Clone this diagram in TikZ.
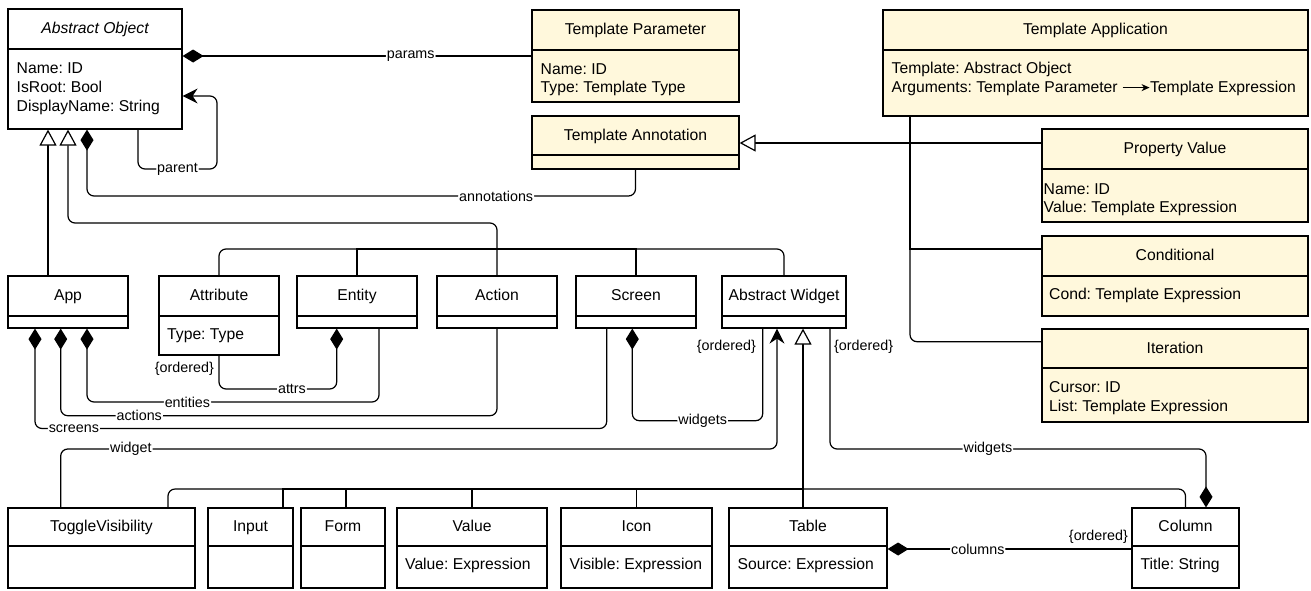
\documentclass[tikz,border=0pt]{standalone}
\usepackage{fontspec}
\setmainfont{Liberation Sans}
\usetikzlibrary{arrows.meta,fit}
\definecolor{tmplfill}{RGB}{255,248,220}
\frenchspacing

% \umlclass[style]{name}{left}{top}{right}{divider}{bottom}{title}
\newcommand\umlclass[8][]{%
  \coordinate (#2-nw) at (#3,#4);
  \coordinate (#2-se) at (#5,#7);
  \node[classbox,#1,fit=(#2-nw)(#2-se)] (#2) {};
  \draw[line width=1.2pt] (#3,#6) -- (#5,#6);
  \node[classtitle] (#2-title) at ({(#3+#5)/2},{(#4+#6)/2+4.5}) {#8};
}

\begin{document}
\frenchspacing
\begin{tikzpicture}[x=1pt,y=-1pt,
  classbox/.style={draw, inner sep=0pt, line width=1.2pt},
  tmpl/.style={fill=tmplfill},
  classtitle/.style={anchor=base, inner sep=0pt, font=\fontsize{15.7}{18.7}\selectfont},
  attrtext/.style={anchor=base west, inner sep=0pt, font=\fontsize{15.7}{18.7}\selectfont},
  lbl/.style={fill=white, inner sep=1pt, font=\fontsize{14.3}{17}\selectfont},
  note/.style={inner sep=0pt, font=\fontsize{14.3}{17}\selectfont},
  link/.style={draw, line width=1.2pt, rounded corners=7pt},
  comp/.style={link, {Diamond[length=21pt,width=13pt]}-},
  gen/.style={link, -{Triangle[length=16pt,width=17pt,fill=white]}},
  nav/.style={link, -{Stealth[length=15pt,width=15pt,inset=5pt]}},
]
\useasboundingbox (0,0) rectangle (1311,590);

% ---------- classes: top area ----------
\umlclass{ao}{8}{9}{182}{49}{129}{\itshape Abstract Object}
\node[attrtext] (ao-a1) at (16.5,73.5) {Name: ID};
\node[attrtext] (ao-a2) at (16.5,92.3) {IsRoot: Bool};
\node[attrtext] (ao-a3) at (16.5,111.1) {DisplayName: String};

\umlclass[tmpl]{tp}{532}{10}{739}{50}{102}{Template Parameter}
\node[attrtext] (tp-a1) at (540.5,74) {Name: ID};
\node[attrtext] (tp-a2) at (540.5,92.6) {Type: Template Type};

\umlclass[tmpl]{tann}{532}{116}{739}{155}{169}{Template Annotation}

\umlclass[tmpl]{tapp}{883}{10}{1308}{50}{116}{Template Application}
\node[attrtext] (tapp-a1) at (891.5,73.6) {Template: Abstract Object};
\node[attrtext] (tapp-a2) at (891.5,92.2) {Arguments: Template Parameter
  \tikz[baseline=-4.6pt]\draw[line width=1pt,-{Stealth[length=8pt,width=7pt,inset=2.5pt]}] (0pt,0pt) -- (27pt,0pt);Template Expression};

\umlclass[tmpl]{pv}{1042}{129}{1308}{169}{222}{Property Value}
\node[attrtext] (pv-a1) at (1043.5,194) {Name: ID};
\node[attrtext] (pv-a2) at (1043.5,212.4) {Value: Template Expression};

\umlclass[tmpl]{cond}{1042}{236}{1308}{276}{316}{Conditional}
\node[attrtext] (cond-a1) at (1049,299.6) {Cond: Template Expression};

\umlclass[tmpl]{iter}{1042}{329}{1308}{368}{422}{Iteration}
\node[attrtext] (iter-a1) at (1049,392.3) {Cursor: ID};
\node[attrtext] (iter-a2) at (1049,411.1) {List: Template Expression};

% ---------- classes: middle row ----------
\umlclass{app}{8}{276}{128}{316}{328}{App}
\umlclass{attr}{159}{276}{279}{316}{355}{Attribute}
\node[attrtext] (attr-a1) at (167,339.6) {Type: Type};
\umlclass{ent}{297}{276}{417}{316}{328}{Entity}
\umlclass{act}{437}{276}{557}{316}{328}{Action}
\umlclass{scr}{576}{276}{696}{316}{328}{Screen}
\umlclass{aw}{722}{276}{846}{316}{328}{Abstract Widget}

% ---------- classes: bottom row ----------
\umlclass{tv}{8}{508}{195}{546}{588}{ToggleVisibility}
\umlclass{inp}{208}{508}{293}{546}{588}{Input}
\umlclass{form}{301}{508}{385}{546}{588}{Form}
\umlclass{val}{397}{508}{547}{546}{588}{Value}
\node[attrtext] (val-a1) at (405,569.6) {Value: Expression};
\umlclass{icon}{561}{508}{712}{546}{588}{Icon}
\node[attrtext] (icon-a1) at (569.5,569.6) {Visible: Expression};
\umlclass{tab}{729}{508}{887}{546}{588}{Table}
\node[attrtext] (tab-a1) at (737.5,569.6) {Source: Expression};
\umlclass{col}{1132}{508}{1239}{546}{588}{Column}
\node[attrtext] (col-a1) at (1140.5,569.6) {Title: String};

% ---------- generalisations to Template Annotation ----------
\coordinate (jt) at (910,143);
\draw[gen] (pv.west |- jt) -- (tann.east |- jt);
\draw[link] (tapp.south -| jt) -- (jt);
\draw[link, sharp corners] (cond.west |- 0,249) -| (jt);
\draw[link] (iter.west |- 0,341.7) -| (jt);

% ---------- generalisations to Abstract Object ----------
\draw[gen] (app.north -| 48,0) -- (ao.south -| 48,0);
\draw[gen] (act.north) -- (act.north |- 0,223) -- (68,223) -- (ao.south -| 68,0);
\coordinate (jao) at (act.north |- 0,249);
\draw[link] (attr.north) |- (jao);
\draw[link] (aw.north) |- (jao);
\draw[link, sharp corners] (ent.north) |- (jao);
\draw[link, sharp corners] (scr.north) |- (jao);

% ---------- generalisations to Abstract Widget ----------
\draw[gen] (tab.north -| 803,0) -- (aw.south -| 803,0);
\coordinate (jaw) at (803,489);
\draw[link] (tv.north -| 168,0) |- (jaw);
\draw[link] (col.north) |- (jaw);
\draw[link, sharp corners] (inp.north -| 283,0) |- (jaw);
\draw[link, sharp corners] (form.north -| 346,0) |- (jaw);
\draw[link, sharp corners] (val.north) |- (jaw);
\draw[link, sharp corners] (icon.north) |- (jaw);

% ---------- associations of Abstract Object ----------
\draw[comp] (ao.east |- 0,56) -- node[lbl,pos=0.654]{params} (tp.west |- 0,56);
\draw[nav] (ao.south -| 138,0) -- (138,169) -- node[lbl]{parent} (217,169) -- (217,96) -- (ao.east |- 0,96);
\draw[comp] (ao.south -| 87,0) -- (87,196) -- node[lbl,pos=0.746]{annotations} (tann.south |- 0,196) -- (tann.south);

% ---------- associations of App, Entity, Screen ----------
\draw[comp] (app.south -| 87,0) -- (87,402) -- node[lbl,pos=0.344]{entities} (379,402) -- (ent.south -| 379,0);
\draw[comp] (app.south -| 60.7,0) -- (60.7,415.7) -- node[lbl,pos=0.18]{actions} (act.south |- 0,415.7) -- (act.south);
\draw[comp] (app.south -| 35,0) -- (35,428.5) -- node[lbl,pos=0.068]{screens} (606.7,428.5) -- (scr.south -| 606.7,0);
\draw[comp] (ent.south -| 336.7,0) -- (336.7,389) -- node[lbl,pos=0.38]{attrs} (attr.south |- 0,389) -- (attr.south);
\node[note, anchor=east] (ord-attr) at (214,369) {\{ordered\}};
\draw[comp] (scr.south -| 632.3,0) -- (632.3,420.7) -- node[lbl,pos=0.54]{widgets} (762.7,420.7) -- (aw.south -| 762.7,0);
\node[note, anchor=east] (ord-scr) at (756,347) {\{ordered\}};

% ---------- associations of widgets ----------
\draw[nav] (tv.north -| 60.7,0) -- (60.7,449) -- node[lbl,pos=0.098]{widget} (777,449) -- (aw.south -| 777,0);
\draw[comp] (col.north -| 1206,0) -- (1206,449) -- node[lbl,pos=0.58]{widgets} (830,449) -- (aw.south -| 830,0);
\node[note, anchor=west] (ord-aw) at (834,347) {\{ordered\}};
\draw[comp] (tab.east |- 0,549) -- node[lbl,pos=0.37]{columns} (col.west |- 0,549);
\node[note, anchor=east] (ord-col) at (1128,537) {\{ordered\}};

\end{tikzpicture}
\end{document}
